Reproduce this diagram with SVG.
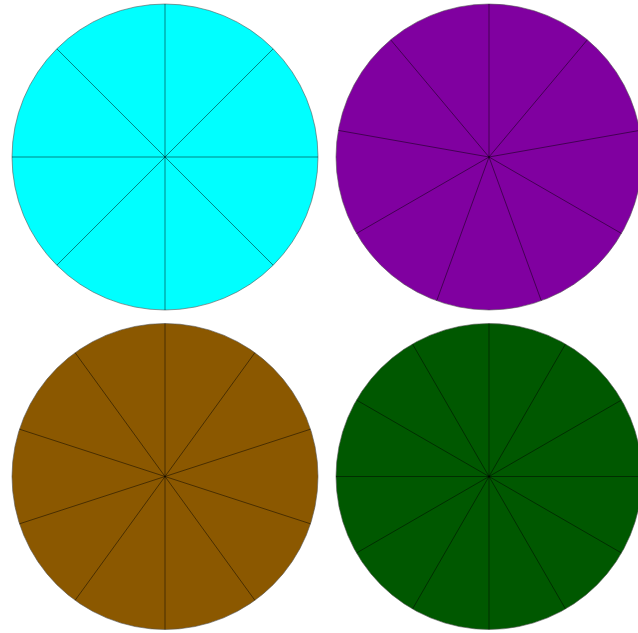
<svg xmlns="http://www.w3.org/2000/svg" width="638" height="633" viewBox="0 0 638 633">
<style>
.rim{stroke:#555;stroke-width:0.6}
.sp{stroke:#000;stroke-width:0.6;stroke-opacity:0.8;fill:none}
</style>
<rect width="638" height="633" fill="#fff"/>
<g id="pie-cyan" transform="translate(165,157)">
<circle class="rim" r="153" fill="#00ffff"/>
<path class="sp" d="M0,0L0,-153M0,0L108.2,-108.2M0,0L153,0M0,0L108.2,108.2M0,0L0,153M0,0L-108.2,108.2M0,0L-153,0M0,0L-108.2,-108.2"/>
</g>
<g id="pie-purple" transform="translate(489,157)">
<circle class="rim" r="153" fill="#8000a0"/>
<path class="sp" d="M0,0L0,-153M0,0L98.3,-117.2M0,0L150.7,-26.6M0,0L132.5,76.5M0,0L52.3,143.8M0,0L-52.3,143.8M0,0L-132.5,76.5M0,0L-150.7,-26.6M0,0L-98.3,-117.2"/>
</g>
<g id="pie-brown" transform="translate(165,476.5)">
<circle class="rim" r="153" fill="#8b5800"/>
<path class="sp" d="M0,0L0,-153M0,0L89.9,-123.8M0,0L145.5,-47.3M0,0L145.5,47.3M0,0L89.9,123.8M0,0L0,153M0,0L-89.9,123.8M0,0L-145.5,47.3M0,0L-145.5,-47.3M0,0L-89.9,-123.8"/>
</g>
<g id="pie-green" transform="translate(489,476.5)">
<circle class="rim" r="153" fill="#005800"/>
<path class="sp" d="M0,0L0,-153M0,0L76.5,-132.5M0,0L132.5,-76.5M0,0L153,0M0,0L132.5,76.5M0,0L76.5,132.5M0,0L0,153M0,0L-76.5,132.5M0,0L-132.5,76.5M0,0L-153,0M0,0L-132.5,-76.5M0,0L-76.5,-132.5"/>
</g>
</svg>
